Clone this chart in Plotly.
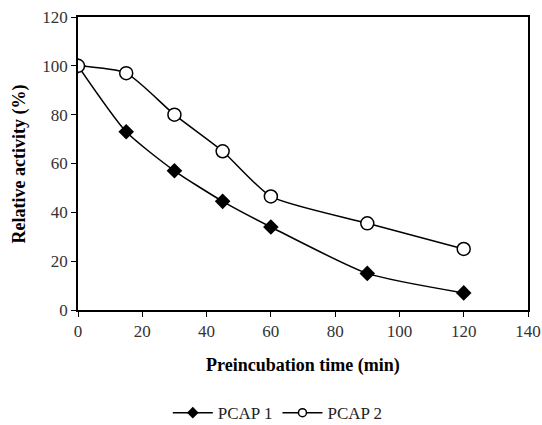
import plotly.graph_objects as go

time_min = [0, 15, 30, 45, 60, 90, 120]
pcap1 = [100, 73, 57, 44.5, 34, 15, 7]
pcap2 = [100, 97, 80, 65, 46.5, 35.5, 25]
series_names = ["PCAP 1", "PCAP 2"]
x_ticks = [0, 20, 40, 60, 80, 100, 120, 140]
y_ticks = [0, 20, 40, 60, 80, 100, 120]

line_style = dict(color="black", width=1.5, shape="spline", smoothing=0.6)
fig = go.Figure()
fig.add_trace(go.Scatter(x=time_min, y=pcap1, name=series_names[0], mode="lines+markers",
                         line=line_style, showlegend=False,
                         marker=dict(symbol="diamond", size=12, color="black")))
fig.add_trace(go.Scatter(x=time_min, y=pcap2, name=series_names[1], mode="lines+markers",
                         line=line_style, showlegend=False,
                         marker=dict(symbol="circle", size=13, color="white",
                                     line=dict(color="black", width=1.5))))
# legend entries with the small markers used in the reference legend
fig.add_trace(go.Scatter(x=[None], y=[None], name=series_names[0], mode="lines+markers",
                         line=dict(color="black", width=1.5),
                         marker=dict(symbol="diamond", size=9, color="black")))
fig.add_trace(go.Scatter(x=[None], y=[None], name=series_names[1], mode="lines+markers",
                         line=dict(color="black", width=1.5),
                         marker=dict(symbol="circle", size=8, color="white",
                                     line=dict(color="black", width=1.5))))

font = "Liberation Serif, Times New Roman, serif"
fig.update_layout(
    width=542, height=425,
    margin=dict(l=78, r=14, t=17, b=115, autoexpand=False),
    paper_bgcolor="white", plot_bgcolor="white",
    font=dict(family=font, size=17, color="#333"),
    showlegend=True,
    legend=dict(orientation="h", x=0.444, xanchor="center", y=-0.352, yanchor="middle",
                itemwidth=40,
                font=dict(family=font, size=17, color="#222")),
    xaxis=dict(range=[0, 140], tickvals=x_ticks, showgrid=False, zeroline=False,
               showline=True, linecolor="black", linewidth=1.5, mirror=True,
               ticks="outside", ticklen=5, tickcolor="black", automargin=False,
               ticklabeloverflow="allow"),
    yaxis=dict(range=[0, 120], tickvals=y_ticks, showgrid=False, zeroline=False,
               showline=True, linecolor="black", linewidth=1.5, mirror=True,
               ticks="outside", ticklen=5, tickcolor="black", automargin=False,
               ticklabeloverflow="allow"),
    annotations=[
        dict(text="<b>Preincubation time (min)</b>", xref="paper", yref="paper",
             x=0.5, y=-0.188, xanchor="center", yanchor="middle", showarrow=False,
             font=dict(family=font, size=18, color="black")),
        dict(text="<b>Relative activity (%)</b>", xref="paper", yref="paper",
             x=-0.129, y=0.5, xanchor="center", yanchor="middle", showarrow=False,
             textangle=-90, font=dict(family=font, size=18, color="black")),
    ],
)
fig.write_html("out.html", config={"displayModeBar": False},
               post_script="document.body.style.margin='0';")
